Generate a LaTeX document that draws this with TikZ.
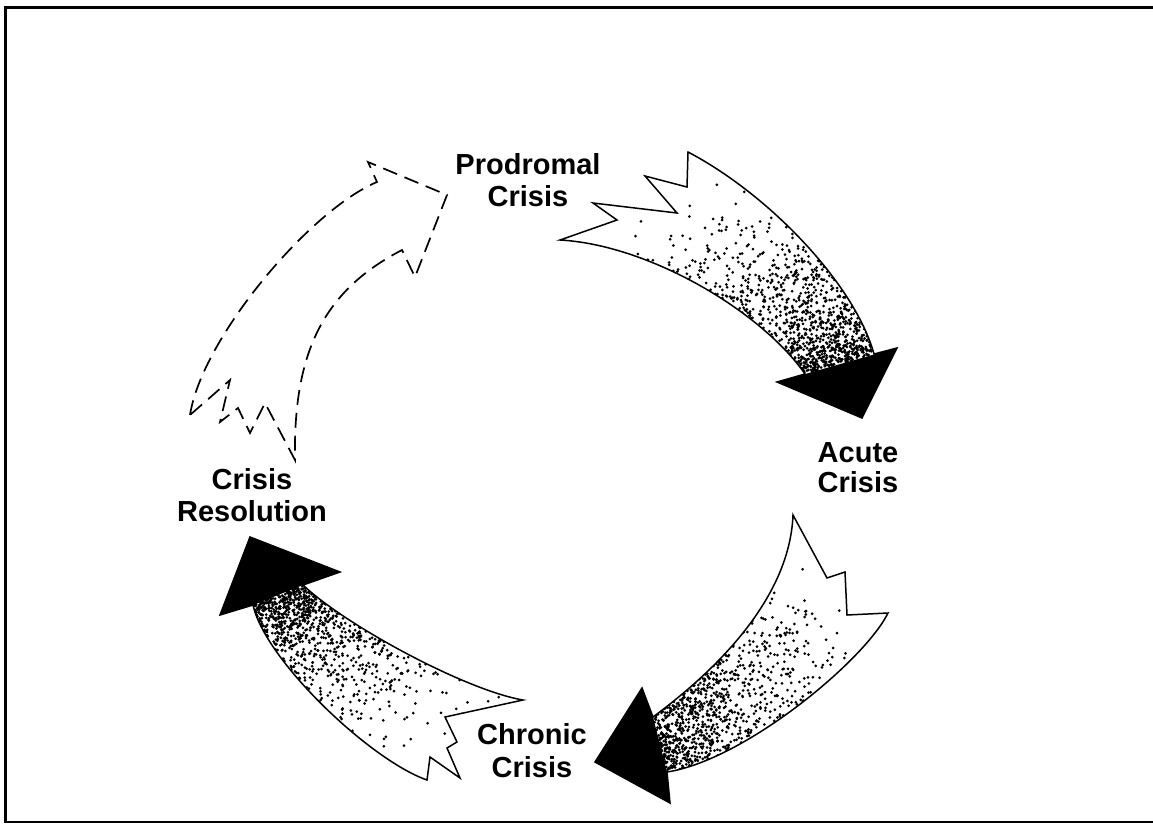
\documentclass[tikz,border=0pt]{standalone}
\usepackage{fontspec}
\setmainfont{Liberation Sans}
\usetikzlibrary{calc}
\newcommand\stippledots[3]{%
  \foreach \k in {1,...,#2}{%
    \pgfmathsetmacro\myt{(0.001+0.999*rnd)^(#3)}%
    \pgfmathsetmacro\mys{rnd}%
    \path (#1i0) .. controls (#1i1) and (#1i2) .. (#1i3) coordinate[pos=\myt] (pA);
    \path (#1o0) .. controls (#1o1) and (#1o2) .. (#1o3) coordinate[pos=\myt] (pB);
    \fill ($(pA)!\mys!(pB)$) circle (1.5pt);
  }}
\begin{document}
\begin{tikzpicture}[x=1pt,y=-1pt,
  lbl/.style={font=\fontsize{29}{32}\selectfont\bfseries, align=center, inner sep=0pt},
  outline/.style={draw=black, line width=1.5pt, line join=miter},
  dashline/.style={draw=black, line width=1.7pt, dash pattern=on 15pt off 8pt},
  headfill/.style={fill=black},
  frame/.style={draw=black, line width=2.6pt}]
\useasboundingbox (0,0) rectangle (1153,823);
\pgfmathsetseed{4242}
% frame
\coordinate (f1) at (1153,7.5);
\coordinate (f2) at (5.5,7.5);
\coordinate (f3) at (5.5,822);
\coordinate (f4) at (1153,822);
\draw[frame] (f1) -- (f2) -- (f3) -- (f4);

% ---------- Arrow 1: Prodromal -> Acute
\coordinate (a1i0) at (560,240);
\coordinate (a1i1) at (650,245);
\coordinate (a1i2) at (762,312);
\coordinate (a1i3) at (805,374);
\coordinate (a1o0) at (688,152);
\coordinate (a1o1) at (770,195);
\coordinate (a1o2) at (855,285);
\coordinate (a1o3) at (874,354);
\coordinate (a1hr) at (897,348);
\coordinate (a1ht) at (862,418);
\coordinate (a1hl) at (777,382);
\def\bodyA{(a1i0) -- (617,220) -- (593,203) -- (677,213) -- (645,176) -- (687,187) -- (a1o0)
  .. controls (a1o1) and (a1o2) .. (a1o3) -- (a1hr) -- (a1ht) -- (a1hl) -- (a1i3)
  .. controls (a1i2) and (a1i1) .. (a1i0) -- cycle}
\begin{scope}
\clip \bodyA;
\stippledots{a1}{1000}{0.3}
\end{scope}
\fill[headfill] (a1hl) -- (a1ht) -- (a1hr) -- cycle;
\path[outline] \bodyA;

% ---------- Arrow 2: Acute -> Chronic
\coordinate (a2i0) at (793,515);
\coordinate (a2i1) at (790,590);
\coordinate (a2i2) at (730,660);
\coordinate (a2i3) at (653,717);
\coordinate (a2o0) at (888,613);
\coordinate (a2o1) at (865,660);
\coordinate (a2o2) at (745,760);
\coordinate (a2o3) at (667,772);
\coordinate (a2hu) at (642,688);
\coordinate (a2ht) at (595,762);
\coordinate (a2hb) at (670,803);
\def\bodyB{(a2i0) -- (827,578) -- (845,572) -- (847,615) -- (a2o0)
  .. controls (a2o1) and (a2o2) .. (a2o3) -- (a2hb) -- (a2ht) -- (a2hu) -- (a2i3)
  .. controls (a2i2) and (a2i1) .. (a2i0) -- cycle}
\begin{scope}
\clip \bodyB;
\stippledots{a2}{900}{0.32}
\end{scope}
\fill[headfill] (a2i3) -- (a2hu) -- (a2ht) -- (a2hb) -- (a2o3) -- cycle;
\path[outline] \bodyB;

% ---------- Arrow 3: Chronic -> Resolution
\coordinate (a3i0) at (523,700);
\coordinate (a3i1) at (465,690);
\coordinate (a3i2) at (345,625);
\coordinate (a3i3) at (303,585);
\coordinate (a3o0) at (427,780);
\coordinate (a3o1) at (370,760);
\coordinate (a3o2) at (265,660);
\coordinate (a3o3) at (253,605);
\coordinate (a3hl) at (220,615);
\coordinate (a3ht) at (250,537);
\coordinate (a3hr) at (340,572);
\def\bodyC{(a3i0) -- (445,717) -- (457,742) -- (447,748) -- (460,778) -- (430,757) -- (a3o0)
  .. controls (a3o1) and (a3o2) .. (a3o3) -- (a3hl) -- (a3ht) -- (a3hr) -- (a3i3)
  .. controls (a3i2) and (a3i1) .. (a3i0) -- cycle}
\begin{scope}
\clip \bodyC;
\stippledots{a3}{900}{0.32}
\end{scope}
\fill[headfill] (a3i3) -- (a3hr) -- (a3ht) -- (a3hl) -- (a3o3) -- cycle;
\path[outline] \bodyC;

% ---------- Arrow 4: Resolution -> Prodromal (dashed)
\coordinate (a4o0) at (190,415);
\coordinate (a4o1) at (202,338);
\coordinate (a4o2) at (310,210);
\coordinate (a4o3) at (377,182);
\coordinate (a4hu) at (368,162);
\coordinate (a4ht) at (447,195);
\coordinate (a4hb) at (415,277);
\coordinate (a4i3) at (402,250);
\coordinate (a4i2) at (325,290);
\coordinate (a4i1) at (293,350);
\coordinate (a4i0) at (295,460);
\path[dashline] (a4o0) .. controls (a4o1) and (a4o2) .. (a4o3) -- (a4hu) -- (a4ht) -- (a4hb) -- (a4i3)
  .. controls (a4i2) and (a4i1) .. (a4i0) -- (265,403) -- (250,433) -- (238,408) -- (220,422) -- (230,380) -- cycle;

% ---------- Labels
\node[lbl] (prod) at (528,180.5) {Prodromal\\Crisis};
\node[lbl, font=\fontsize{29}{30}\selectfont\bfseries] (acute) at (858,467.5) {Acute\\Crisis};
\node[lbl] (resol) at (252,495.5) {Crisis\\Resolution};
\node[lbl, font=\fontsize{29}{33}\selectfont\bfseries] (chron) at (532,751) {Chronic\\Crisis};
\end{tikzpicture}
\end{document}
